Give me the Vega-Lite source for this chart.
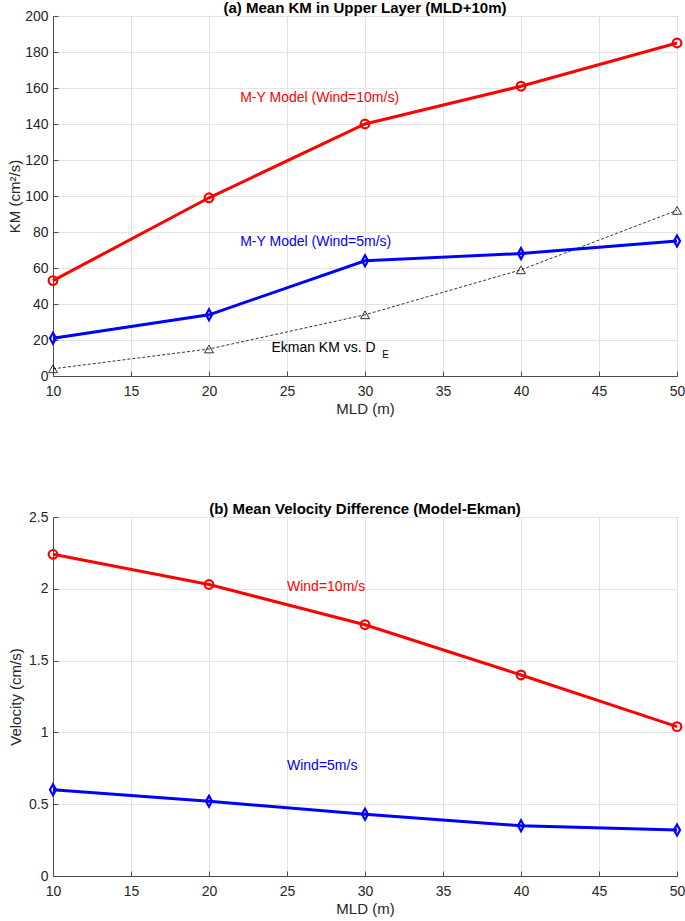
{
  "$schema": "https://vega.github.io/schema/vega-lite/v6.json",
  "background": "white",
  "padding": {"left": 7, "top": 0, "right": 0, "bottom": 0},
  "spacing": 84,
  "datasets": {
    "top": [
      {"series": "red", "mld": 10, "value": 53},
      {"series": "red", "mld": 20, "value": 99},
      {"series": "red", "mld": 30, "value": 140},
      {"series": "red", "mld": 40, "value": 161},
      {"series": "red", "mld": 50, "value": 185},
      {"series": "blue", "mld": 10, "value": 21},
      {"series": "blue", "mld": 20, "value": 34},
      {"series": "blue", "mld": 30, "value": 64},
      {"series": "blue", "mld": 40, "value": 68},
      {"series": "blue", "mld": 50, "value": 75},
      {"series": "ekman", "mld": 10, "value": 4},
      {"series": "ekman", "mld": 20, "value": 15},
      {"series": "ekman", "mld": 30, "value": 34},
      {"series": "ekman", "mld": 40, "value": 59},
      {"series": "ekman", "mld": 50, "value": 92}
    ],
    "bottom": [
      {"series": "red", "mld": 10, "value": 2.24},
      {"series": "red", "mld": 20, "value": 2.03},
      {"series": "red", "mld": 30, "value": 1.75},
      {"series": "red", "mld": 40, "value": 1.40},
      {"series": "red", "mld": 50, "value": 1.04},
      {"series": "blue", "mld": 10, "value": 0.60},
      {"series": "blue", "mld": 20, "value": 0.52},
      {"series": "blue", "mld": 30, "value": 0.43},
      {"series": "blue", "mld": 40, "value": 0.35},
      {"series": "blue", "mld": 50, "value": 0.32}
    ],
    "topLabels": [
      {"label": "M-Y Model (Wind=10m/s)", "mld": 22.0, "value": 154.4, "color": "red", "size": "big"},
      {"label": "M-Y Model (Wind=5m/s)", "mld": 22.0, "value": 74.4, "color": "blue", "size": "big"},
      {"label": "Ekman KM vs. D", "mld": 24.0, "value": 15.6, "color": "black", "size": "big"},
      {"label": "E", "mld": 31.1, "value": 11.4, "color": "black", "size": "small"}
    ],
    "bottomLabels": [
      {"label": "Wind=10m/s", "mld": 25.0, "value": 2.01, "color": "red", "size": "big"},
      {"label": "Wind=5m/s", "mld": 25.0, "value": 0.766, "color": "blue", "size": "big"}
    ]
  },
  "config": {
    "font": "Liberation Sans",
    "view": {"stroke": "#4d4d4d", "strokeWidth": 1},
    "axis": {
      "labelFont": "Liberation Sans",
      "labelFontSize": 14,
      "labelColor": "#262626",
      "labelFlush": false,
      "titleFont": "Liberation Sans",
      "titleFontSize": 15,
      "titleFontWeight": "normal",
      "titleColor": "#262626",
      "gridColor": "#e3e3e3",
      "gridWidth": 1,
      "domainColor": "#4d4d4d",
      "tickColor": "#4d4d4d",
      "tickSize": -5
    },
    "title": {
      "font": "Liberation Sans",
      "fontSize": 15,
      "fontWeight": "bold",
      "color": "#000000",
      "offset": -7
    }
  },
  "vconcat": [
    {
      "width": 624,
      "height": 360,
      "title": {"text": "(a) Mean KM in Upper Layer (MLD+10m)"},
      "encoding": {
        "x": {"field": "mld", "type": "quantitative", "scale": {"domain": [10, 50], "nice": false},
              "axis": {"values": [10, 15, 20, 25, 30, 35, 40, 45, 50], "title": "MLD (m)", "labelPadding": 13, "titlePadding": 3}},
        "y": {"field": "value", "type": "quantitative", "scale": {"domain": [0, 200], "nice": false},
              "axis": {"values": [0, 20, 40, 60, 80, 100, 120, 140, 160, 180, 200], "title": "KM (cm²/s)", "labelPadding": 10, "titlePadding": 2}}
      },
      "layer": [
        {"data": {"name": "top"}, "transform": [{"filter": "datum.series === 'ekman'"}],
         "mark": {"type": "line", "color": "#000000", "strokeWidth": 0.8, "strokeDash": [3, 2]}},
        {"data": {"name": "top"}, "transform": [{"filter": "datum.series === 'ekman'"}],
         "mark": {"type": "point", "shape": "triangle-up", "filled": false, "color": "#000000", "strokeWidth": 0.8, "size": 80, "opacity": 1}},
        {"data": {"name": "top"}, "transform": [{"filter": "datum.series === 'red'"}],
         "mark": {"type": "line", "color": "#ff0000", "strokeWidth": 3}},
        {"data": {"name": "top"}, "transform": [{"filter": "datum.series === 'red'"}],
         "mark": {"type": "point", "shape": "circle", "filled": false, "color": "#ff0000", "strokeWidth": 2.2, "size": 75, "opacity": 1}},
        {"data": {"name": "top"}, "transform": [{"filter": "datum.series === 'blue'"}],
         "mark": {"type": "line", "color": "#0000ff", "strokeWidth": 3}},
        {"data": {"name": "top"}, "transform": [{"filter": "datum.series === 'blue'"}],
         "mark": {"type": "point", "shape": "M0,-1L0.55,0L0,1L-0.55,0Z", "filled": false, "color": "#0000ff", "strokeWidth": 2.2, "size": 120, "opacity": 1}},
        {"data": {"name": "topLabels"}, "transform": [{"filter": "datum.size === 'big'"}],
         "mark": {"type": "text", "align": "left", "baseline": "middle", "fontSize": 14},
         "encoding": {
           "text": {"field": "label"},
           "color": {"field": "color", "type": "nominal", "scale": {"domain": ["red", "blue", "black"], "range": ["#ff0000", "#0000ff", "#000000"]}, "legend": null}
         }},
        {"data": {"name": "topLabels"}, "transform": [{"filter": "datum.size === 'small'"}],
         "mark": {"type": "text", "align": "left", "baseline": "middle", "fontSize": 10, "color": "#000000"},
         "encoding": {"text": {"field": "label"}}}
      ]
    },
    {
      "width": 624,
      "height": 359,
      "title": {"text": "(b) Mean Velocity Difference (Model-Ekman)"},
      "encoding": {
        "x": {"field": "mld", "type": "quantitative", "scale": {"domain": [10, 50], "nice": false},
              "axis": {"values": [10, 15, 20, 25, 30, 35, 40, 45, 50], "title": "MLD (m)", "labelPadding": 13, "titlePadding": 3}},
        "y": {"field": "value", "type": "quantitative", "scale": {"domain": [0, 2.5], "nice": false},
              "axis": {"values": [0, 0.5, 1, 1.5, 2, 2.5], "format": "~g", "title": "Velocity (cm/s)", "labelPadding": 10, "titlePadding": 5}}
      },
      "layer": [
        {"data": {"name": "bottom"}, "transform": [{"filter": "datum.series === 'red'"}],
         "mark": {"type": "line", "color": "#ff0000", "strokeWidth": 3}},
        {"data": {"name": "bottom"}, "transform": [{"filter": "datum.series === 'red'"}],
         "mark": {"type": "point", "shape": "circle", "filled": false, "color": "#ff0000", "strokeWidth": 2.2, "size": 75, "opacity": 1}},
        {"data": {"name": "bottom"}, "transform": [{"filter": "datum.series === 'blue'"}],
         "mark": {"type": "line", "color": "#0000ff", "strokeWidth": 3}},
        {"data": {"name": "bottom"}, "transform": [{"filter": "datum.series === 'blue'"}],
         "mark": {"type": "point", "shape": "M0,-1L0.55,0L0,1L-0.55,0Z", "filled": false, "color": "#0000ff", "strokeWidth": 2.2, "size": 120, "opacity": 1}},
        {"data": {"name": "bottomLabels"},
         "mark": {"type": "text", "align": "left", "baseline": "middle", "fontSize": 14},
         "encoding": {
           "text": {"field": "label"},
           "color": {"field": "color", "type": "nominal", "scale": {"domain": ["red", "blue"], "range": ["#ff0000", "#0000ff"]}, "legend": null}
         }}
      ]
    }
  ]
}
